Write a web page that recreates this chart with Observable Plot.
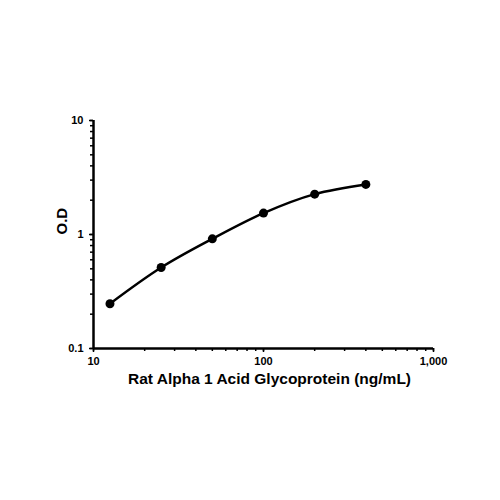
<!DOCTYPE html>
<html><head><meta charset="utf-8">
<script src="https://cdn.jsdelivr.net/npm/d3@7"></script>
<script src="https://cdn.jsdelivr.net/npm/@observablehq/plot@0.6"></script>
<style>body{margin:0;background:#fff;} svg{font-family:"Liberation Sans",Arial,sans-serif;}</style>
</head><body><div id="chart"></div>
<script>
const concentration = [12.5, 25, 50, 100, 200, 400];
const od = [0.247, 0.513, 0.916, 1.54, 2.26, 2.75];
const xMajor = [10, 100, 1000];
const yMajor = [0.1, 1, 10];
const xLabel = "Rat Alpha 1 Acid Glycoprotein (ng/mL)";
const yLabel = "O.D";

const data = concentration.map((c, i) => ({x: c, y: od[i]}));
const minor = (lo, hi) => { const r = []; for (let d = lo; d < hi; d *= 10) for (let k = 1; k < 10; k++) r.push(d * k); r.push(hi); return r; };
const xMinor = minor(10, 1000);
const yMinor = minor(0.1, 10);
const fmt = d3.format(",");

const chart = Plot.plot({
  width: 500, height: 500,
  marginLeft: 93, marginRight: 67, marginTop: 120, marginBottom: 152,
  x: {type: "log", domain: [10, 1000]},
  y: {type: "log", domain: [0.1, 10]},
  style: {fontFamily: "Liberation Sans, Arial, sans-serif", color: "#000"},
  marks: [
    Plot.axisX({ticks: xMinor, tickSize: 3, tickFormat: () => "", label: null, strokeWidth: 1.5}),
    Plot.axisX({ticks: xMajor, tickSize: 4, tickFormat: fmt, fontSize: 11, fontWeight: "bold", tickPadding: 5, label: null, strokeWidth: 1.5}),
    Plot.axisY({ticks: yMinor, tickSize: 3, tickFormat: () => "", label: null, strokeWidth: 1.5}),
    Plot.axisY({ticks: yMajor, tickSize: 4, tickFormat: d => String(d), fontSize: 11, fontWeight: "bold", tickPadding: 6, label: null, strokeWidth: 1.5}),
    Plot.ruleX([10], {strokeWidth: 2.5}),
    Plot.ruleY([0.1], {strokeWidth: 2.5}),
    Plot.line(data, {x: "x", y: "y", curve: "catmull-rom", strokeWidth: 2.5, stroke: "#000"}),
    Plot.dot(data, {x: "x", y: "y", r: 4.5, fill: "#000", stroke: "none"}),
    Plot.text([xLabel], {frameAnchor: "bottom", dx: 6, dy: 35, fontSize: 15.5, fontWeight: "bold"}),
    Plot.text([yLabel], {frameAnchor: "left", dx: -31, rotate: -90, fontSize: 15, fontWeight: "bold"})
  ]
});
document.getElementById("chart").appendChild(chart);
</script></body></html>
